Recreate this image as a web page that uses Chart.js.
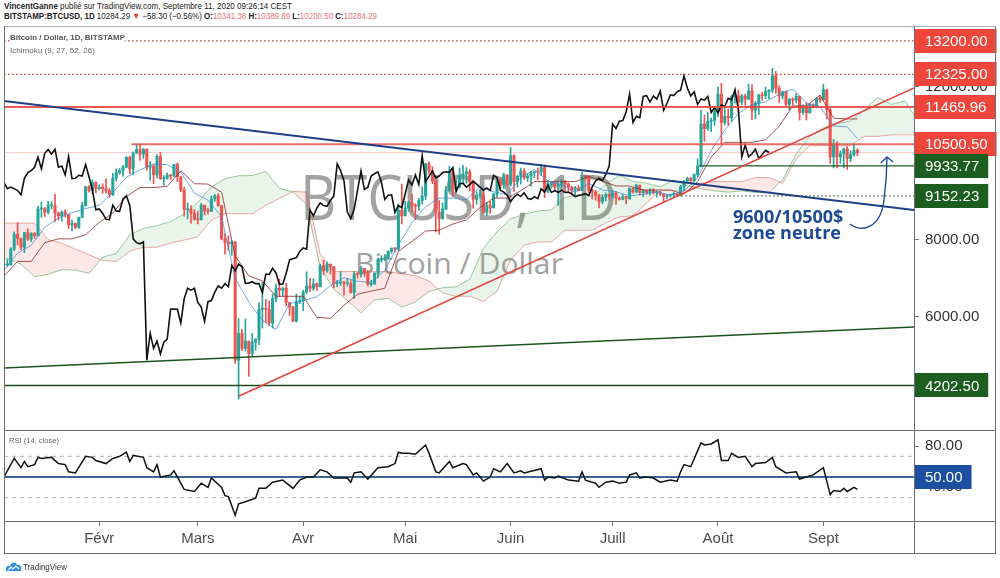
<!DOCTYPE html>
<html>
<head>
<meta charset="utf-8">
<script src="https://cdn.jsdelivr.net/npm/chart.js@4.4.0/dist/chart.umd.min.js"></script>
<style>
  html, body { margin: 0; padding: 0; background: #fff; }
  body { width: 1000px; height: 578px; position: relative; overflow: hidden; font-family: 'Liberation Sans', Arial, sans-serif; }
  .abs { position: absolute; white-space: nowrap; transform-origin: left top; }
  .wm { position: absolute; white-space: nowrap; color: #a2a2a2; font-family: 'Open Sans', sans-serif; transform-origin: left top; z-index: 1; }
  .ln { position: absolute; background: #6f6f6f; z-index: 3; }
  .over { z-index: 4; }
  .rv { color: #e57373; }
  #mainBox { position: absolute; left: 0; top: 26px; width: 1000px; height: 404px; z-index: 2; }
  #rsiBox { position: absolute; left: 0; top: 430px; width: 1000px; height: 123px; z-index: 2; }
  .note { position: absolute; white-space: nowrap; z-index: 4; color: #1c4a94; font: bold 18px/18px 'Open Sans', sans-serif; }
</style>
</head>
<body>

<div id="h1" class="abs over" style="left:4px;top:2.4px;font-size:9px;line-height:9px;color:#222"><b>VincentGanne</b> publié sur TradingView.com, Septembre 11, 2020 09:26:14 CEST</div>
<div id="h2" class="abs over" style="left:4px;top:12.4px;font-size:9px;line-height:9px;color:#222"><b>BITSTAMP:BTCUSD, 1D</b> 10284.29 <span style="color:#e53935">▼</span> −58.30 (−0.56%) <b>O:</b><span class="rv">10341.38</span> <b>H:</b><span class="rv">10389.89</span> <b>L:</b><span class="rv">10200.50</span> <b>C:</b><span class="rv">10284.29</span></div>

<div id="wm1" class="wm" style="left:300px;top:164px;font-size:63px;line-height:63px;">BTCUSD, 1D</div>
<div id="wm2" class="wm" style="left:355px;top:248px;font-size:30px;line-height:30px;">Bitcoin / Dollar</div>

<div id="mainBox"><canvas id="main" width="1000" height="404"></canvas></div>
<div id="rsiBox"><canvas id="rsi" width="1000" height="123"></canvas></div>

<div id="lg1" class="abs over" style="left:10px;top:34.2px;font-size:8px;line-height:8px;font-weight:bold;color:#555;background:#fff">Bitcoin / Dollar, 1D, BITSTAMP</div>
<div id="lg2" class="abs over" style="left:10px;top:46.5px;font-size:8px;line-height:8px;color:#666">Ichimoku (9, 27, 52, 26)</div>
<div id="lg3" class="abs over" style="left:9px;top:437px;font-size:8px;line-height:8px;color:#666">RSI (14, close)</div>

<div class="note" style="left:733px;top:206.5px">9600/10500$</div>
<div class="note" style="left:733px;top:223px">zone neutre</div>

<div class="ln" style="left:4px;top:26px;width:991px;height:1px;background:#b0b0b0"></div>
<div class="ln" style="left:4px;top:26px;width:1px;height:528px"></div>
<div class="ln" style="left:995px;top:26px;width:1px;height:528px"></div>
<div class="ln" style="left:4px;top:553px;width:992px;height:1px"></div>
<div class="ln" style="left:4px;top:430px;width:991px;height:1px"></div>
<div class="ln" style="left:4px;top:521px;width:991px;height:1px"></div>
<div class="ln" style="left:914px;top:26px;width:1px;height:528px"></div>

<svg class="abs over" style="left:5px;top:561px" width="17" height="11" viewBox="0 0 17 11">
  <path d="M1 10 C0 6 3 4 5 5 C6 1 11 0 12 4 C15 3 17 6 16 10 Z" fill="#2f8fe0"/>
  <path d="M3 9 L6 6 L8 8 L11 5 L14 8" stroke="#fff" stroke-width="1.2" fill="none"/>
</svg>
<div id="ft" class="abs over" style="left:23px;top:563px;font-size:9px;line-height:9px;color:#333">TradingView</div>

<script>
// daily candles, Jan 4 (day 0) to Sep 11 2020 (day 251)
const closes = [
  7350,7350,7760,8150,8040,7810,8190,8020,8180,8110,
  8810,8820,8720,8900,8900,8700,8630,8730,8660,8390,
  8430,8330,8590,8900,9390,9290,9500,9340,9380,9340,
  9290,9180,9610,9760,9810,9900,10160,9860,10270,10360,
  10240,10370,9900,9930,9700,10180,9600,9610,9690,9670,
  9970,9650,9310,8790,8810,8700,8540,8530,8910,8760,
  8750,9070,9150,8900,8030,7930,7900,7950,4860,5560,
  5170,5360,5030,5330,5410,6190,6200,6190,5830,6470,
  6740,6690,6740,6370,6250,5880,6390,6420,6640,6800,
  6740,6860,6780,7330,7200,7370,7300,6860,6880,6910,
  6860,6860,6630,7110,7100,7260,7140,6840,6850,7130,
  7480,7510,7540,7700,7790,7760,8780,8630,8830,8970,
  8900,8880,9030,9150,9990,9810,9540,8730,8560,8810,
  9310,9800,9320,9380,9670,9730,9780,9510,9060,9170,
  9180,8720,8900,8840,9200,9570,9430,9700,9450,10200,
  9520,9660,9800,9620,9670,9760,9780,9770,9890,9270,
  9470,9480,9380,9450,9530,9460,9380,9300,9360,9290,
  9690,9630,9300,9250,9170,9000,9120,9190,9140,9230,
  9090,9060,9130,9080,9340,9250,9430,9240,9290,9240,
  9300,9240,9250,9200,9130,9160,9180,9210,9160,9390,
  9540,9610,9550,9710,9930,11030,10910,11100,11120,11350,
  11810,11070,11230,11190,11750,11770,11600,11760,11680,11890,
  11390,11570,11790,11770,11870,11910,12290,11960,11760,11870,
  11540,11680,11650,11750,11330,11460,11320,11530,11480,11700,
  11660,11920,11400,10170,10480,10170,10250,10370,10130,10230,
  10340,10284.29
];
const highs = [
  7400,7490,7800,8210,8450,8050,8200,8290,8190,8190,
  8880,8990,8850,9010,9000,9190,8730,8760,8790,8670,
  8520,8440,8600,8980,9400,9420,9570,9520,9440,9470,
  9600,9340,9740,9860,9870,9950,10170,10190,10300,10490,
  10500,10390,10380,10050,9970,10230,10280,9680,9750,9710,
  9980,10010,9660,9380,8970,8900,8790,8750,8960,8910,
  8830,9150,9190,9210,8900,8170,8110,7980,7960,5950,
  5670,5940,5360,5560,5420,6360,6890,6450,6410,6590,
  6850,6980,6770,6870,6370,6270,6590,6520,6690,7170,
  7000,6990,6880,7370,7470,7420,7370,7310,6950,7180,
  6910,6990,6940,7180,7150,7310,7260,7210,6950,7150,
  7530,7590,7620,7720,7790,7800,8940,9460,9010,9010,
  9190,8950,9090,9390,10000,10040,9910,9570,9030,8970,
  9400,9930,9840,9580,9880,9950,9890,9840,9560,9260,
  9310,9310,8980,9010,9220,9620,9600,9740,9700,10420,
  10230,9690,9880,9860,9730,9790,9800,9880,9980,9960,
  9560,9490,9490,9500,9580,9560,9490,9400,9400,9420,
  9770,9700,9680,9330,9300,9200,9190,9230,9200,9300,
  9270,9130,9190,9140,9370,9370,9460,9440,9320,9300,
  9340,9340,9280,9270,9210,9190,9200,9240,9220,9430,
  9550,9640,9640,9730,10120,11390,11260,11330,11180,11450,
  12000,12090,11480,11420,11780,11920,11910,11800,11810,12070,
  12060,11620,11800,11850,11990,11930,12480,12400,12030,11890,
  11890,11690,11710,11820,11760,11530,11590,11550,11560,11710,
  11770,12070,11930,11460,10620,10570,10330,10400,10440,10330,
  10500,10389.89
];
const lows = [
  7270,7310,7340,7720,7870,7750,7670,7990,7960,8040,
  8100,8590,8610,8680,8810,8470,8520,8490,8600,8300,
  8240,8290,8300,8580,8880,9250,9210,9230,9310,9220,
  9220,9110,9160,9540,9720,9660,9880,9730,9700,10260,
  10080,10130,9820,9560,9470,9620,9580,9430,9590,9580,
  9660,9520,9260,8620,8550,8440,8520,8420,8520,8650,
  8680,8750,9010,8880,8000,7630,7730,7600,4780,3850,
  5110,5100,4440,4960,5120,5270,5700,5830,5760,5700,
  6380,6530,6530,6270,6030,5870,5860,6340,6150,6600,
  6650,6680,6680,6770,7090,7150,7110,6750,6780,6810,
  6560,6800,6610,6470,7000,7030,7050,6800,6790,6840,
  7010,7420,7460,7510,7650,7690,7730,8420,8630,8750,
  8720,8530,8780,8940,9050,9720,9470,8210,8150,8540,
  8790,9270,9140,9250,9360,9460,9480,9290,8830,8930,
  9090,8700,8630,8700,8830,9110,9340,9340,9410,9410,
  9270,9380,9460,9580,9530,9400,9630,9570,9690,9100,
  9230,9350,9300,8900,9370,9250,9280,9210,9180,9280,
  9290,9580,9230,9070,9040,8840,8950,9020,9070,9090,
  8930,9040,9050,8940,9060,9220,9230,9170,9130,9190,
  9170,9200,9120,9160,9010,9080,9120,9120,9140,9150,
  9280,9500,9460,9520,9650,9910,10570,10860,10830,10990,
  11220,10520,11000,11000,11090,11580,11340,11530,11520,11660,
  11140,11160,11280,11650,11690,11690,11850,11830,11590,11680,
  11510,11400,11520,11580,11130,11280,11130,11310,11450,11460,
  11590,11650,11160,10000,9880,9880,10000,9880,9840,10040,
  10190,10200.5
];
const firstOpen = 7345;

// Ichimoku lines read every 4 days
const tkDays = Array.from({length: 63}, (_, i) => i * 4).concat([251]);
const tenkan = [
  7195,7660,7860,8330,8575,8715,8820,8905,9240,9640,9830,9985,9965,9770,9225,9040,
  8605,6995,6375,5905,5665,6340,6420,6515,6810,7015,6920,6890,7205,7865,8460,8865,
  9095,9095,9050,9390,9260,9185,9625,9845,9540,9440,9240,9475,9305,9260,9150,9195,
  9260,9175,9280,9620,10335,10870,11305,11535,11605,11810,11940,11580,11475,10975,10955,10650
];
const kijun = [
  7060,7440,7440,7930,8030,8030,8135,8455,8705,9135,9370,9370,9400,9805,9470,9460,
  9250,7580,7065,6930,6530,6530,6530,5980,5955,6295,6585,6665,6740,7705,7965,8235,
  8255,8415,8525,8845,9095,9095,9285,9525,9525,9525,9525,9660,9535,9410,9410,9305,
  9305,9305,9195,9525,10165,10550,10550,10550,10615,10970,11500,11500,11785,11180,11160,11160
];
const spanDays = Array.from({length: 70}, (_, i) => -28 + i * 4);
const spanA = [
  7615,7510,7370,7040,7105,7225,7215,7128,7550,7650,
  8130,8303,8373,8478,8680,8973,9388,9600,9678,9683,
  9788,9348,9250,8928,7288,6720,6418,6098,6435,6475,
  6248,6383,6655,6753,6778,6973,7785,8213,8550,8675,
  8755,8788,9118,9178,9140,9455,9685,9533,9483,9383,
  9568,9420,9335,9280,9250,9283,9240,9238,9573,10250,
  10710,10928,11043,11110,11390,11720,11540,11630,11078,11058
];
const spanB = [
  8440,8440,8440,8440,8010,7915,7765,7615,7465,7440,
  7710,7810,7810,7915,8000,8085,8520,8685,8685,8685,
  8905,9085,9270,9250,7640,7175,7175,7175,7175,7175,
  7120,7065,6930,6615,6530,6530,6395,6655,7480,7870,
  7950,7950,8255,8255,8255,8445,8605,8630,8965,9285,
  9285,9285,9480,9525,9525,9525,9630,9630,9480,10115,
  10465,10465,10465,10465,10705,10705,10745,10745,10745,10800
];
const chikouShift = 26;
const spanShift = 25;

// RSI (14, close)
const rsiDays = [
  0,3,5,6,7,9,10,11,14,16,18,19,21,24,26,27,30,32,34,36,
  37,38,41,42,44,45,46,49,50,53,56,58,60,61,64,65,66,68,69,71,
  74,75,77,79,82,85,87,89,91,93,95,97,101,102,103,105,107,110,113,115,
  116,117,119,121,124,125,127,128,131,132,135,136,138,139,141,143,144,146,147,148,
  150,152,153,158,159,160,162,163,166,169,170,171,174,175,177,179,181,183,184,186,
  187,189,191,193,196,198,199,200,202,205,206,208,210,211,213,214,216,218,220,221,
  224,226,227,230,233,234,236,238,241,243,244,246,247,248,250,251
];
const rsiVals = [
  50,68,59,65,60,62,69,68,69,63,62,55,54,70,69,66,63,68,70,74,
  65,71,69,59,55,62,50,52,56,38,36,44,40,49,40,32,31,13,24,26,
  29.5,39,39,45,47,39,47,50,50,57,55,49,49,45,54,55,48,59,60,63,
  74,73,73,72,81,73,55,54,65,59,63,62,52,54,46,50,58,55,59,63,
  54,56,54,58,47,50,49,51,47,46,55,47,44,40,45,46,44,45,52,54,
  49,50,49,45,47,46,55,62,60,83,81,82,86,66,66,73,69,70,60,63,
  64,69,60,54,55,48,50,52,59,33,37,36,39,36,40,38
];
const rsiMid = 50;
const rsiBands = [70, 30];
const rsiTicks = [40, 80];

// axes
const monthDays = [28, 57, 88, 118, 149, 179, 210, 241];
const monthLabels = ['Févr', 'Mars', 'Avr', 'Mai', 'Juin', 'Juill', 'Août', 'Sept'];
const priceTicks = [4000, 6000, 8000, 10000, 12000];

// drawn levels and trend lines (day, price)
const levelValues = [13200, 12325, 11469.96, 10500.5, 9933.77, 9152.23, 4202.5];
const levelFrom = [0, 0, 0, 37.5, 204.5, 198, 0];
const trendStart = [[0, 11630], [69, 3920], [0, 4655]];
const trendEnd = [[267.65, 8783], [267.65, 11969], [267.65, 5728]];
const arrowPath = [[248.8, 8418], [252.4, 8183], [257.9, 8313], [258.8, 9044], [259.7, 9619], [259.7, 10167]];
const arrowHead = [[257.9, 10010], [259.7, 10167], [261.5, 10037]];

const X_MAX = 267.65;
const UP = '#26a69a', DOWN = '#ef5350';
const RED = '#f0453a', GREEN = '#1b5e20';

Chart.defaults.font.family = "'Liberation Sans', Arial, sans-serif";

// candles
const bodies = closes.map((c, i) => {
  const o = i === 0 ? firstOpen : closes[i - 1];
  return {x: i, y: [o, c], up: c >= o};
});
const wicks = closes.map((c, i) => {
  const o = i === 0 ? firstOpen : closes[i - 1];
  return {x: i, y: [lows[i], highs[i]], up: c >= o};
});
const candleColor = ctx => (ctx.raw && ctx.raw.up ? UP : DOWN);

const line = (data, color, width, order, extra) => Object.assign({
  type: 'line', data, borderColor: color, borderWidth: width,
  pointRadius: 0, fill: false, tension: 0, order
}, extra || {});

const levelStyle = [
  {c: '#c0392b', w: 1.2, d: [1.5, 2.5]},
  {c: '#c0392b', w: 1.2, d: [1.5, 2.5]},
  {c: 'rgba(229,72,64,0.9)', w: 2, d: []},
  {c: 'rgba(229,72,64,0.8)', w: 2, d: []},
  {c: '#1e5b22', w: 1.4, d: []},
  {c: '#3b5e3e', w: 1.1, d: [1.5, 2.5]},
  {c: '#1e4b22', w: 1.4, d: []}
];
const trendStyle = [
  {c: '#1d3f86', w: 2},
  {c: '#e2453c', w: 1.6},
  {c: '#1e5322', w: 1.5}
];

// higher order = drawn underneath
const datasets = [
  line(spanDays.map((d, i) => ({x: d + spanShift, y: spanA[i]})), 'rgba(76,160,80,0.55)', 1, 30,
       {fill: {target: '+1', above: 'rgba(76,175,80,0.12)', below: 'rgba(244,67,54,0.12)'}}),
  line(spanDays.map((d, i) => ({x: d + spanShift, y: spanB[i]})), 'rgba(214,90,80,0.5)', 1, 30),
  line([{x: 0, y: closes[closes.length - 1]}, {x: X_MAX, y: closes[closes.length - 1]}], 'rgba(239,83,80,0.3)', 1, 29),
  line(tkDays.map((d, i) => ({x: d, y: tenkan[i]})), 'rgba(60,140,220,0.75)', 1, 25),
  line(tkDays.map((d, i) => ({x: d, y: kijun[i]})), 'rgba(140,40,40,0.8)', 1, 25),
  line(closes.map((c, i) => ({x: i - chikouShift, y: c})), '#111', 1.6, 24),
  {type: 'bar', data: wicks, backgroundColor: candleColor, barThickness: 1, grouped: false, order: 27, borderWidth: 0},
  {type: 'bar', data: bodies, backgroundColor: candleColor, barThickness: 2.4, grouped: false, order: 26, minBarLength: 1, borderWidth: 0}
];
levelValues.forEach((v, i) => {
  const s = levelStyle[i];
  datasets.push(line([{x: levelFrom[i], y: v}, {x: X_MAX, y: v}], s.c, s.w, 5, {borderDash: s.d}));
});
trendStart.forEach((p, i) => {
  const s = trendStyle[i];
  datasets.push(line([{x: p[0], y: p[1]}, {x: trendEnd[i][0], y: trendEnd[i][1]}], s.c, s.w, 4));
});

const boxKind = ['r', 'r', 'r', 'r', 'g', 'g', 'g'];

const drawBox = (chart, value, text, color) => {
  const ctx = chart.ctx;
  const yPix = chart.scales.y.getPixelForValue(value);
  const left = chart.chartArea.right + 1;
  ctx.font = "15px 'Liberation Sans', Arial, sans-serif";
  const w = ctx.measureText(text).width + 19;
  ctx.fillStyle = color;
  ctx.fillRect(left, Math.round(yPix - 12), w, 24);
  ctx.fillStyle = '#fff';
  ctx.textBaseline = 'middle';
  ctx.textAlign = 'left';
  ctx.fillText(text, left + 10, yPix + 1);
};

const priceBoxes = {
  id: 'priceBoxes',
  afterDraw(chart) {
    chart.ctx.save();
    levelValues.forEach((v, i) => drawBox(chart, v, v.toFixed(2), boxKind[i] === 'r' ? RED : GREEN));
    chart.ctx.restore();
  }
};

const arrow = {
  id: 'arrow',
  afterDatasetsDraw(chart) {
    const {ctx, scales: {x, y}} = chart;
    const P = a => [x.getPixelForValue(a[0]), y.getPixelForValue(a[1])];
    const pts = arrowPath.map(P);
    const hd = arrowHead.map(P);
    ctx.save();
    ctx.strokeStyle = '#1c4a94';
    ctx.lineWidth = 1.4;
    ctx.beginPath();
    ctx.moveTo(pts[0][0], pts[0][1]);
    ctx.bezierCurveTo(pts[1][0], pts[1][1], pts[2][0], pts[2][1], pts[3][0], pts[3][1]);
    ctx.quadraticCurveTo(pts[4][0], pts[4][1], pts[5][0], pts[5][1]);
    ctx.stroke();
    ctx.beginPath();
    ctx.moveTo(hd[0][0], hd[0][1]);
    ctx.lineTo(hd[1][0], hd[1][1]);
    ctx.lineTo(hd[2][0], hd[2][1]);
    ctx.stroke();
    ctx.restore();
  }
};

new Chart(document.getElementById('main'), {
  type: 'bar',
  data: {datasets},
  options: {
    responsive: false, animation: false, devicePixelRatio: 1,
    layout: {padding: {left: 4, right: 0, top: 0, bottom: 0}},
    plugins: {legend: {display: false}, tooltip: {enabled: false}},
    scales: {
      x: {type: 'linear', min: 0, max: X_MAX, display: false, offset: false},
      y: {
        type: 'linear', position: 'right', min: 3039, max: 13587,
        afterFit(s) { s.width = 86; s.paddingTop = 0; s.paddingBottom = 0; },
        afterBuildTicks(s) { s.ticks = priceTicks.map(v => ({value: v})); },
        ticks: {callback: v => Number(v).toFixed(2), color: '#333', font: {size: 15}, padding: 6},
        grid: {drawOnChartArea: false, tickLength: 5, color: '#777'},
        border: {display: false}
      }
    }
  },
  plugins: [priceBoxes, arrow]
});

const rsiBox = {
  id: 'rsiBox',
  afterDraw(chart) {
    chart.ctx.save();
    drawBox(chart, rsiMid, rsiMid.toFixed(2), '#1c4fa0');
    chart.ctx.restore();
  }
};

const rsiSets = [
  line(rsiDays.map((d, i) => ({x: d, y: rsiVals[i]})), '#111', 1.5, 1),
  line([{x: 0, y: rsiMid}, {x: X_MAX, y: rsiMid}], '#3b6699', 2, 2)
];
rsiBands.forEach(b => rsiSets.push(line([{x: 0, y: b}, {x: X_MAX, y: b}], '#b5b5b5', 1, 3, {borderDash: [4, 4]})));

new Chart(document.getElementById('rsi'), {
  type: 'line',
  data: {datasets: rsiSets},
  options: {
    responsive: false, animation: false, devicePixelRatio: 1,
    layout: {padding: {left: 4, right: 0, top: 0, bottom: 0}},
    plugins: {legend: {display: false}, tooltip: {enabled: false}},
    scales: {
      x: {
        type: 'linear', min: 0, max: X_MAX, position: 'bottom',
        afterFit(s) { s.height = 32; s.paddingLeft = 0; s.paddingRight = 0; },
        afterBuildTicks(s) { s.ticks = monthDays.map(v => ({value: v})); },
        ticks: {callback: v => monthLabels[monthDays.indexOf(v)], color: '#4d4d4d', font: {size: 15}, padding: 4, autoSkip: false, maxRotation: 0},
        grid: {drawOnChartArea: false, tickLength: 5, color: '#777'},
        border: {display: false}
      },
      y: {
        type: 'linear', position: 'right', min: 7.42, max: 95.5,
        afterFit(s) { s.width = 86; s.paddingTop = 0; s.paddingBottom = 0; },
        afterBuildTicks(s) { s.ticks = rsiTicks.map(v => ({value: v})); },
        ticks: {callback: v => Number(v).toFixed(2), color: '#333', font: {size: 15}, padding: 6},
        grid: {drawOnChartArea: false, tickLength: 5, color: '#777'},
        border: {display: false}
      }
    }
  },
  plugins: [rsiBox]
});

// squeeze text to the widths seen on the screenshot
function fit(id, w) {
  const el = document.getElementById(id);
  const k = w / el.getBoundingClientRect().width;
  el.style.transform = 'scaleX(' + k + ')';
  return k;
}
fit('h1', 288);
fit('h2', 373);
fit('wm1', 317);
fit('wm2', 208);
fit('lg1', 115);
fit('lg2', 85);
fit('lg3', 50);
fit('ft', 44);
</script>
</body>
</html>
